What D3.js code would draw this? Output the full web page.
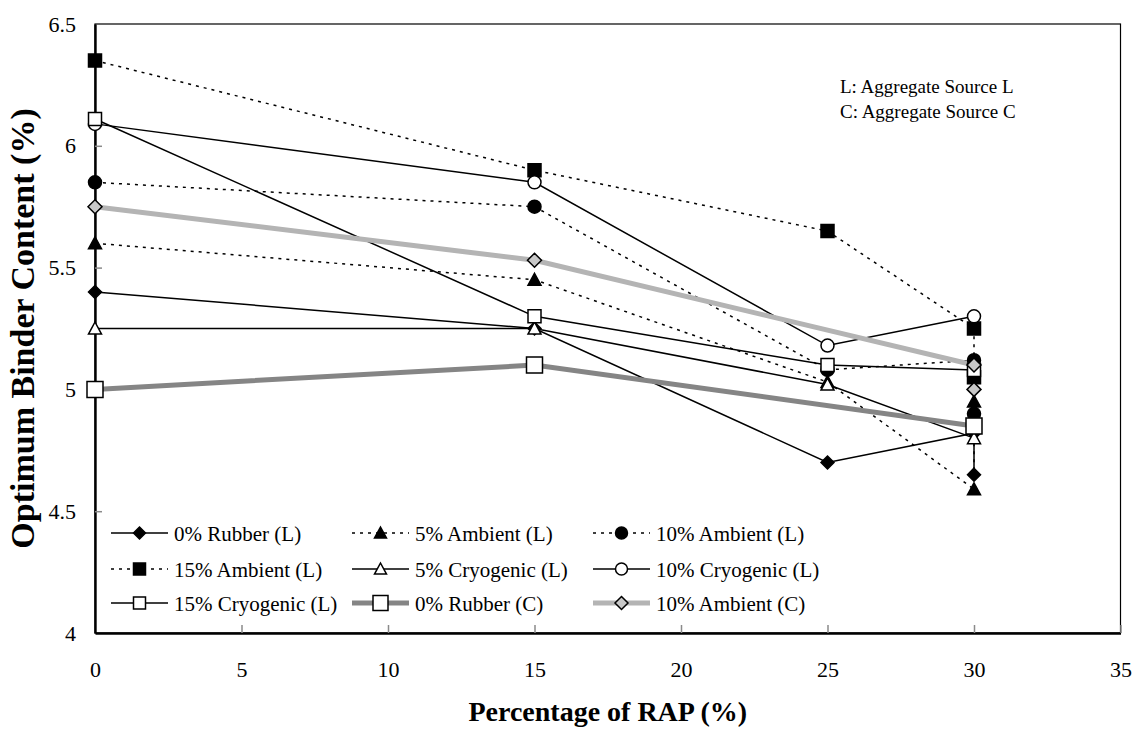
<!DOCTYPE html>
<html>
<head>
<meta charset="utf-8">
<script src="https://cdn.jsdelivr.net/npm/d3@7"></script>
<style>
    body { margin: 0; background: white; }
    text { font-family: "Liberation Serif", "Times New Roman", serif; fill: black; }
</style>
</head>
<body>
<div id="chart"></div>
<script>
// RAP percentages (x values); aggregate L mixes repeat the 30% point
var rapL = [0, 15, 25, 30, 30];
var rapC = [0, 15, 30, 30];

// optimum binder content (%) per mix
var rubber0L    = [5.40, 5.25, 4.70, 4.82, 4.65];
var ambient5L   = [5.60, 5.45, 5.03, 4.59, 4.95];
var ambient10L  = [5.85, 5.75, 5.08, 5.12, 4.90];
var ambient15L  = [6.35, 5.90, 5.65, 5.25, 5.05];
var cryo5L      = [5.25, 5.25, 5.02, 4.80];
var cryo10L     = [6.09, 5.85, 5.18, 5.30];
var cryo15L     = [6.11, 5.30, 5.10, 5.08];
var rubber0C    = [5.00, 5.10, 4.85];
var ambient10C  = [5.75, 5.53, 5.10, 5.00];

var seriesNames = ["0% Rubber (L)", "5% Ambient (L)", "10% Ambient (L)",
    "15% Ambient (L)", "5% Cryogenic (L)", "10% Cryogenic (L)",
    "15% Cryogenic (L)", "0% Rubber (C)", "10% Ambient (C)"];

var xTicks = [0, 5, 10, 15, 20, 25, 30, 35];
var yTicks = [4, 4.5, 5, 5.5, 6, 6.5];

var notes = ["L: Aggregate Source L", "C: Aggregate Source C"];

var svgWidth = 1135;
var svgHeight = 729;

var margin = {
    top: 24,
    right: 14.5,
    bottom: 96,
    left: 95
};

var chartWidth = svgWidth - margin.left - margin.right;
var chartHeight = svgHeight - margin.top - margin.bottom;

// styles for each series, same order as seriesNames
var styles = [
    { x: rapL, y: rubber0L,   marker: "diamond",  fill: "black", stroke: "black", width: 1.5, dash: null, size: 6.5 },
    { x: rapL, y: ambient5L,  marker: "triangle", fill: "black", stroke: "black", width: 1.5, dash: "3,5", size: 6.5 },
    { x: rapL, y: ambient10L, marker: "circle",   fill: "black", stroke: "black", width: 1.5, dash: "3,5", size: 6.5 },
    { x: rapL, y: ambient15L, marker: "square",   fill: "black", stroke: "black", width: 1.5, dash: "3,5", size: 6.5 },
    { x: rapL, y: cryo5L,     marker: "triangle", fill: "white", stroke: "black", width: 1.5, dash: null, size: 6.5 },
    { x: rapL, y: cryo10L,    marker: "circle",   fill: "white", stroke: "black", width: 1.5, dash: null, size: 6.5 },
    { x: rapL, y: cryo15L,    marker: "square",   fill: "white", stroke: "black", width: 1.5, dash: null, size: 6.5 },
    { x: rapC, y: rubber0C,   marker: "square",   fill: "white",   stroke: "#858585", width: 5, dash: null, size: 8 },
    { x: rapC, y: ambient10C, marker: "diamond",  fill: "#c8c8c8", stroke: "#b4b4b4", width: 5, dash: null, size: 7 }
];

function markerPath( type, r) {
    if (type === "diamond") {
        return `M0,${-r}L${r},0L0,${r}L${-r},0Z`;
    }
    if (type === "square") {
        return `M${-r},${-r}H${r}V${r}H${-r}Z`;
    }
    if (type === "triangle") {
        return `M0,${-r}L${r},${r * 0.85}L${-r},${r * 0.85}Z`;
    }
    return `M${r},0A${r},${r} 0 1,1 ${-r},0A${r},${r} 0 1,1 ${r},0Z`;
}

// pair up x and y, a series may have fewer values than x positions
function toPoints( s) {
    return s.y.map( (yv, i) => [s.x[i], yv]);
}

var svg = d3.select( "#chart")
    .append( "svg")
    .attr( "width", svgWidth)
    .attr( "height", svgHeight);

var chartGroup = svg.append( "g")
    .attr( "transform", `translate(${margin.left}, ${margin.top})`);

var xLinearScale = d3.scaleLinear()
    .domain([0, 35])
    .range([0, chartWidth]);

var yLinearScale = d3.scaleLinear()
    .domain([4, 6.5])
    .range([chartHeight, 0]);

// frame (top and right edges are thin)
chartGroup.append( "rect")
    .attr( "width", chartWidth)
    .attr( "height", chartHeight)
    .attr( "fill", "none")
    .attr( "stroke", "black")
    .attr( "stroke-width", 1.2);

var bottomAxis = d3.axisBottom( xLinearScale)
    .tickValues( xTicks)
    .tickSizeInner( -8)
    .tickSizeOuter( 0)
    .tickPadding( 28);

var leftAxis = d3.axisLeft( yLinearScale)
    .tickValues( yTicks)
    .tickFormat( d3.format( "~g"))
    .tickSizeInner( -7)
    .tickSizeOuter( 0)
    .tickPadding( 19);

var xAxis = chartGroup.append( "g")
    .attr( "transform", `translate(0, ${chartHeight})`)
    .call( bottomAxis);

var yAxis = chartGroup.append( "g")
    .call( leftAxis);

[xAxis, yAxis].forEach( function( axis) {
    axis.select( ".domain")
        .attr( "stroke", "black")
        .attr( "stroke-width", 2.4);
    axis.selectAll( ".tick line")
        .attr( "stroke", "#8a8a8a")
        .attr( "stroke-width", 1.5);
    axis.selectAll( ".tick text")
        .attr( "font-size", 22)
        .attr( "font-family", "Liberation Serif");
});
// hide ticks that sit on the frame
xAxis.selectAll( ".tick line").filter( d => d === 0).remove();
yAxis.selectAll( ".tick line").filter( d => d === 4 || d === 6.5).remove();

var createLine = d3.line()
    .x( d => xLinearScale( d[0]))
    .y( d => yLinearScale( d[1]));

// lines first, then markers on top
var seriesGroup = chartGroup.append( "g");

styles.forEach( function( s) {
    seriesGroup.append( "path")
        .attr( "d", createLine( toPoints( s)))
        .attr( "fill", "none")
        .attr( "stroke", s.stroke)
        .attr( "stroke-width", s.width)
        .attr( "stroke-dasharray", s.dash);
});

styles.forEach( function( s) {
    seriesGroup.selectAll( null)
        .data( toPoints( s))
        .enter()
        .append( "path")
        .attr( "transform", d => `translate(${xLinearScale( d[0])}, ${yLinearScale( d[1])})`)
        .attr( "d", markerPath( s.marker, s.size))
        .attr( "fill", s.fill)
        .attr( "stroke", "black")
        .attr( "stroke-width", 1.5);
});

// legend, three columns inside the plot
var legendCols = [16, 257, 498];
var legendRows = [509, 545, 579];

var legendGroup = chartGroup.append( "g");

styles.forEach( function( s, i) {
    var lx = legendCols[i % 3];
    var ly = legendRows[Math.floor( i / 3)];
    var item = legendGroup.append( "g")
        .attr( "transform", `translate(${lx}, ${ly})`);
    item.append( "line")
        .attr( "x1", 0)
        .attr( "x2", 57)
        .attr( "stroke", s.stroke)
        .attr( "stroke-width", s.width)
        .attr( "stroke-dasharray", s.dash);
    item.append( "path")
        .attr( "transform", "translate(28.5, 0)")
        .attr( "d", markerPath( s.marker, s.size - 0.5))
        .attr( "fill", s.fill)
        .attr( "stroke", "black")
        .attr( "stroke-width", 1.5);
    item.append( "text")
        .attr( "x", 63)
        .attr( "y", 7.5)
        .attr( "font-size", 21)
        .text( seriesNames[i]);
});

// source note, top right
chartGroup.append( "g")
    .selectAll( "text")
    .data( notes)
    .enter()
    .append( "text")
    .attr( "x", 745)
    .attr( "y", (d, i) => 69 + i * 25)
    .attr( "font-size", 19)
    .text( d => d);

// axis titles
svg.append( "text")
    .attr( "x", margin.left + chartWidth / 2)
    .attr( "y", 721)
    .attr( "text-anchor", "middle")
    .attr( "font-size", 28)
    .attr( "font-weight", "bold")
    .text( "Percentage of RAP (%)");

svg.append( "text")
    .attr( "transform", `translate(34, ${margin.top + chartHeight / 2}) rotate(-90)`)
    .attr( "text-anchor", "middle")
    .attr( "font-size", 34)
    .attr( "font-weight", "bold")
    .text( "Optimum Binder Content (%)");
</script>
</body>
</html>
